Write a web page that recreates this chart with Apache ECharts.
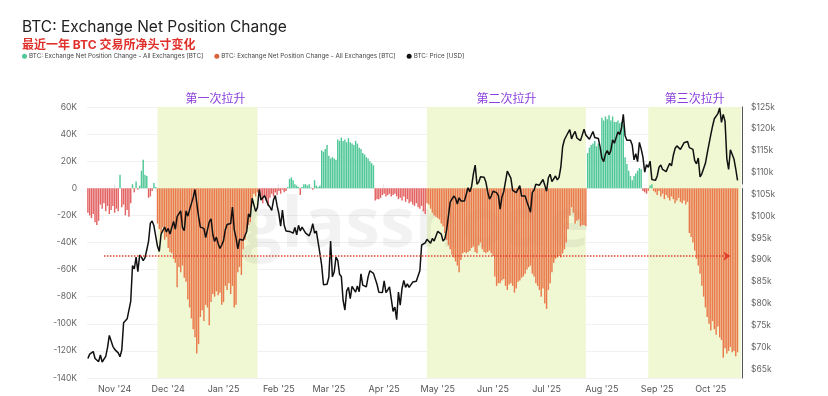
<!DOCTYPE html>
<html>
<head>
<meta charset="utf-8">
<script src="https://cdn.jsdelivr.net/npm/echarts@6/dist/echarts.min.js"></script>
<style>html,body{margin:0;padding:0;background:#fff}#c{width:828px;height:396px}</style>
</head>
<body>
<div id="c"></div>
<script>
// ---- data ----
const startDate = '2024-10-17';
const totalCategories = 367; // daily categories, last two without data
// Net position change, thousands of BTC (daily, from 2024-10-17)
const netPositionK = [
-18,-20,-22,-19,-25,-27,-24,-12,-15,-11,-17,-13,-19,-16,-13,-18,-15,-17,10,-14,-12,-20,-16,-21,-11,3,-3,5,-1,2,13,21,10,9,-7,-6,-2,4,1,
-26,-30,-33,-29,-38,-36,-44,-47,-48,-52,-55,-73,-58,-62,-57,-66,-69,-82,-88,-96,-104,-110,-122,-115,-95,-90,-98,-86,-88,-101,-84,-78,-80,-76,-79,-77,-86,-84,-72,-75,-70,-78,-72,-88,-86,-62,-58,-64,-45,-38,-30,-27,-25,-9,-4,-6,-3,
-5,-8,-11,-6,-9,-13,-7,-4,-6,-3,-5,-2,-4,-1,-3,-2,1,7,8,6,3,2,1,-5,1,3,3,2,3,0.5,-1,6,2,1,2,
28,27,29,32,24,22,23,22,21,36,35,37.5,35,36,34,37,34,33,32,35,33,30,29,26,25,23,22,20,18.5,17,
-9,-8,-8,-7,-5,-4,-6,-5,-4,-6,-5,-4,-6,-8,-7,-9,-6,-10,-8,-11,-10,-12,-13,-11,-14,-15,-13,-17,-19,
-11,-12,-15,-18,-20,-21,-22,-23,-26,-28,
-33,-38,-42,-45,-49,-51,-54,-57,-62,-53,
-48,-47,-48,-47,-46,-44,-43,-47,-48,-42,
-40,-45,-47,-48,-47,-46,-48,-50,-65,-72,
-70,-70,-68,-67,-72,-75,-71,-70,-72,-77,
-74,-69,-68,-66,-65,-63,-60,-58,-57,-63,
-65,-70,-72,-75,-80,-74,-85,-89,-75,-70,
-62,-55,-52,-51,-50,-51,-48,-45,-40,-30,
-20,-14,-18,-26,-24,-23,-28,-27,-27,-28,
26,30,32,33,35,31,33,30,52,50,
53,51,54,50,53,49,49,50,48,49,
47,23,18,13,9,6,9,11,13,15,
14,-2,-3,-4,-2,2,3,-2,-3,-5,
-2,-6,-4,-8,-5,-7,-9,-6,-8,-11,
-9,-7,-10,-11,-9,-12,-10,-33,-36,-40,
-46,-52,-57,-63,-72,-80,-88,-95,-100,-105,
-98,-104,-108,-102,-110,-112,-125,-118,-122,-120,
-117,-121,-120,-124,-121
];
// BTC price, thousands of USD (daily, from 2024-10-17)
const priceK = [
67.4,68.4,68.4,69.0,67.4,67.4,66.7,68.2,66.6,67.0,67.9,69.9,72.7,72.3,70.2,
69.5,69.3,68.7,67.8,69.4,75.6,75.9,76.5,76.7,80.5,88.7,87.9,90.6,87.3,91.1,90.6,89.8,90.5,92.3,94.3,98.4,98.9,97.8,98.0,93.1,91.9,95.9,95.6,97.5,96.4,
97.2,95.9,96.0,98.8,97.0,99.9,99.9,101.2,97.4,96.7,101.2,100.0,101.5,101.4,104.3,106.1,106.1,100.0,97.5,97.8,97.2,95.1,94.7,98.7,99.4,95.8,94.2,95.2,93.7,92.6,93.4,
94.4,96.9,98.1,98.2,98.3,102.1,96.9,95.0,92.5,94.7,94.5,94.5,94.5,96.5,100.5,99.8,104.1,104.4,101.1,102.0,106.1,103.7,104.0,104.7,104.7,102.6,102.1,101.3,103.7,104.7,102.4,
100.6,97.7,101.4,97.9,96.6,96.6,96.5,96.5,96.1,97.4,95.7,97.9,96.6,97.5,97.6,96.1,95.8,95.5,96.6,98.3,96.1,96.6,96.3,91.5,88.7,84.3,84.7,84.4,
86.0,94.3,86.1,87.2,90.6,89.9,86.7,86.2,80.7,78.5,82.9,83.7,81.1,83.9,84.3,82.6,84.0,82.7,86.8,84.2,84.0,83.8,86.1,87.5,87.4,86.9,87.2,84.4,82.6,82.3,82.5,
85.2,82.5,83.1,83.8,83.5,78.2,79.2,76.3,82.6,79.6,83.4,85.3,83.7,84.5,83.7,84.0,84.9,84.5,85.1,85.2,87.5,93.4,93.7,93.9,94.7,94.6,93.8,94.9,94.3,94.2,
96.5,96.9,95.9,94.3,94.8,96.8,97.0,103.2,102.9,104.6,104.1,102.8,104.2,103.5,103.7,103.5,103.1,106.5,105.6,106.8,109.7,111.7,107.3,107.8,109.0,109.4,108.9,107.8,105.6,103.9,104.6,
105.7,105.8,105.4,104.7,101.6,104.4,105.6,105.7,110.3,110.3,108.7,105.9,106.0,105.4,105.6,107.0,104.6,104.9,104.6,103.3,102.1,100.9,105.4,106.0,107.3,106.9,107.1,107.3,108.4,107.1,
105.7,108.8,109.6,107.9,108.2,109.2,108.3,108.9,111.3,115.9,117.5,117.4,119.1,119.8,117.7,118.7,119.4,117.9,117.9,117.3,117.4,119.9,118.6,118.3,117.6,117.9,119.4,118.0,117.9,117.8,115.8,
113.3,112.5,114.2,115.0,114.1,115.0,117.5,116.7,116.5,119.3,118.7,120.2,123.3,118.4,117.4,117.5,117.4,116.3,112.9,114.3,112.5,116.9,115.4,113.5,110.1,111.8,111.2,112.6,108.4,108.8,108.2,
109.2,111.2,111.7,110.7,110.7,110.2,111.2,112.1,111.5,113.9,115.5,116.1,115.9,115.3,115.4,116.8,116.5,117.1,115.7,115.7,115.3,112.7,112.0,113.3,109.0,109.7,109.7,112.1,114.4,114.1,
118.6,120.6,122.3,122.4,123.5,124.8,121.5,123.3,121.7,113.2,110.7,115.2,115.3,113.1,110.8,108.2
];
const rallyBands = [
  { from: '2024-11-25', to: '2025-01-20', label: '第一次拉升' },
  { from: '2025-04-25', to: '2025-07-23', label: '第二次拉升' },
  { from: '2025-08-27', to: '2025-10-18', label: '第三次拉升' }
];
const refLineK = -50;
const refLineFrom = '2024-10-26';
const refLineTo = '2025-10-12';
const leftTicksK = { min: -140, max: 60, step: 20 };
const rightTicksK = { min: 65, max: 125, step: 5 };
const seriesNames = [
  'BTC: Exchange Net Position Change - All Exchanges [BTC]',
  'BTC: Exchange Net Position Change - All Exchanges [BTC]\u200b',
  'BTC: Price [USD]'
];

// ---- build ----
const dates = [];
{
  const d0 = new Date(startDate + 'T00:00:00Z');
  for (let i = 0; i < totalCategories; i++) {
    const d = new Date(d0.getTime() + i * 86400000);
    dates.push(d.toISOString().slice(0, 10));
  }
}
const MONTHS = ['Jan','Feb','Mar','Apr','May','Jun','Jul','Aug','Sep','Oct','Nov','Dec'];
const isMonthStart = (idx, val) => typeof val === 'string' && val.slice(8) === '01';
const inBand = d => rallyBands.some(b => d >= b.from && d <= b.to);

const GREEN = '#4fc797', RED = '#e36262', ORANGE = '#ea7a4c';
const posData = netPositionK.map(v => v > 0 ? v : null);
const negData = netPositionK.map((v, i) => v < 0 ? { value: v, itemStyle: { color: inBand(dates[i]) ? ORANGE : RED } } : null);

const FONT = "Inter, 'Noto Sans CJK SC', 'Noto Sans', sans-serif";
const chart = echarts.init(document.getElementById('c'), null, { renderer: 'canvas' });

chart.setOption({
  backgroundColor: '#fff',
  animation: false,
  textStyle: { fontFamily: FONT },
  title: {
    left: 22, top: 20, itemGap: 4, padding: 0,
    text: 'BTC: Exchange Net Position Change',
    textStyle: { fontFamily: FONT, fontSize: 15.5, fontWeight: 'normal', color: '#222' },
    subtext: '最近一年 BTC 交易所净头寸变化',
    subtextStyle: { fontFamily: FONT, fontSize: 12, fontWeight: 'bold', color: '#e0302c' }
  },
  legend: {
    left: 22, top: 53, padding: 0, icon: 'circle', itemWidth: 5, itemHeight: 5, itemGap: 11,
    textStyle: { fontFamily: FONT, fontSize: 6.3, color: '#444', padding: [0, 0, 0, -3] },
    data: [
      { name: seriesNames[0], itemStyle: { color: GREEN } },
      { name: seriesNames[1], itemStyle: { color: '#d9633c' } },
      { name: seriesNames[2], itemStyle: { color: '#111' } }
    ]
  },
  graphic: [{
    type: 'text', left: 242, top: 192, z: 1.8, silent: true,
    style: { text: 'glassnode', font: "bold 70px 'Open Sans', sans-serif", fill: 'rgba(0,0,0,0.05)' }
  }],
  grid: [
    { left: 87, right: 86, top: 107, bottom: 18 },
    { left: 87, right: 86, top: 107, bottom: 27 }
  ],
  xAxis: [
    {
      type: 'category', gridIndex: 0, data: dates, boundaryGap: true,
      axisLine: { show: false },
      axisTick: { show: true, inside: true, length: 4, interval: isMonthStart, lineStyle: { color: '#e6e6e6' } },
      axisLabel: {
        interval: isMonthStart, fontSize: 9, color: '#555', margin: 7, fontFamily: FONT,
        formatter: v => MONTHS[+v.slice(5, 7) - 1] + " '" + v.slice(2, 4)
      },
      splitLine: { show: false }
    },
    { type: 'category', gridIndex: 1, data: dates, boundaryGap: true, show: false }
  ],
  yAxis: [
    {
      type: 'value', gridIndex: 0, min: leftTicksK.min, max: leftTicksK.max, interval: leftTicksK.step,
      axisLine: { show: false }, axisTick: { show: false },
      axisLabel: { fontSize: 8.5, color: '#666', margin: 10, fontFamily: FONT, formatter: v => v === 0 ? '0' : v + 'K' },
      splitLine: { lineStyle: { color: '#f1f1f1', width: 1 } }
    },
    {
      type: 'value', gridIndex: 0, position: 'right', offset: 0, min: leftTicksK.min, max: leftTicksK.max,
      axisLine: { show: true, lineStyle: { color: '#555', width: 1 } },
      axisTick: { show: false }, axisLabel: { show: false }, splitLine: { show: false }
    },
    {
      type: 'value', gridIndex: 1, position: 'right', min: rightTicksK.min, max: rightTicksK.max, interval: rightTicksK.step,
      axisLine: { show: false }, axisTick: { show: false },
      axisLabel: { fontSize: 8.5, color: '#666', margin: 9, fontFamily: FONT, formatter: v => '$' + v + 'k' },
      splitLine: { show: false }
    }
  ],
  series: [
    {
      name: 'bands', type: 'line', xAxisIndex: 0, yAxisIndex: 0, data: [], z: 1, silent: true,
      markArea: {
        silent: true,
        itemStyle: { color: '#f0f7d3' },
        label: { show: true, position: 'top', distance: 2, color: '#8a3fdc', fontSize: 12, fontFamily: FONT },
        data: rallyBands.map((b, k) => [
          { name: b.label, xAxis: b.from, label: k === 0 ? { offset: [8, 0] } : {} },
          { xAxis: b.to }
        ])
      },
      markLine: {
        silent: true, symbol: ['none', 'arrow'], symbolSize: 7,
        label: { show: false },
        lineStyle: { color: '#e0402c', type: 'dotted', width: 1.5 },
        data: [[{ coord: [refLineFrom, refLineK] }, { coord: [refLineTo, refLineK] }]]
      }
    },
    {
      name: seriesNames[0], type: 'bar', xAxisIndex: 0, yAxisIndex: 0,
      data: posData, itemStyle: { color: GREEN }, barCategoryGap: '20%', barGap: '-100%'
    },
    {
      name: seriesNames[1], type: 'bar', xAxisIndex: 0, yAxisIndex: 0,
      data: negData, itemStyle: { color: ORANGE }, barCategoryGap: '20%', barGap: '-100%'
    },
    {
      name: seriesNames[2], type: 'line', xAxisIndex: 1, yAxisIndex: 2,
      data: priceK, showSymbol: false, z: 4,
      lineStyle: { color: '#111', width: 1.5 }, itemStyle: { color: '#111' }
    }
  ]
});
</script>
</body>
</html>
